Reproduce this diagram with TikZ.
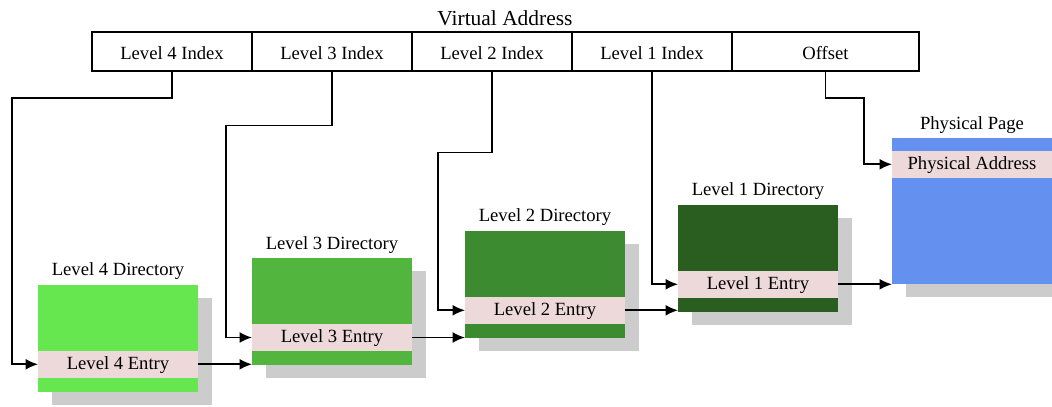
\documentclass[tikz,border=0pt]{standalone}
\usepackage{fontspec}
\setmainfont{Liberation Serif}
\usetikzlibrary{positioning,calc,arrows.meta,backgrounds}

\definecolor{dirfour}{HTML}{66E64F}
\definecolor{dirthree}{HTML}{52B63E}
\definecolor{dirtwo}{HTML}{3D8B30}
\definecolor{dirone}{HTML}{2A5D20}
\definecolor{pagecol}{HTML}{6490F0}
\definecolor{entrycol}{HTML}{EDD9D9}
\definecolor{shadowcol}{HTML}{CCCCCC}

\begin{document}
\begin{tikzpicture}[
    x=0.02cm, y=-0.02cm,
    font=\fontsize{10.6}{12}\selectfont,
    every node/.style={text height=9pt, text depth=0.2pt},
    field/.style={rectangle, draw, line width=0.6pt, minimum width=3.2cm, minimum height=0.78cm, inner sep=0},
    directory/.style={rectangle, minimum width=3.2cm, minimum height=2.134cm, inner sep=0, outer sep=0},
    entry/.style={rectangle, fill=entrycol, minimum width=3.2cm, minimum height=0.534cm, inner sep=0, outer sep=0, text height=7pt, text depth=1.6pt},
    shadowbox/.style={fill=shadowcol},
    link/.style={line width=1pt, -{Latex[length=2.5mm,width=2.2mm]}}
]
    \useasboundingbox (0,0) rectangle (1052,406);

    % Virtual address
    \node[anchor=base, font=\fontsize{12.2}{14}\selectfont] (VA) at (505,25) {Virtual Address};

    \foreach \i [evaluate=\i as \x using 172+(4-\i)*160] in {4,...,1}
        \node[field] (I\i) at (\x,51.5) {Level \i\ Index};

    \node[field, minimum width=3.74cm] (off) at (825.5,51.5) {Offset};

    % Directories
    \foreach \i/\x/\y/\c in {4/118/338.3/dirfour, 3/332/311.5/dirthree, 2/545/284.3/dirtwo, 1/758/258.3/dirone} {
        \node[directory, fill=\c] (D\i) at (\x,\y) {};
        \node[entry] (E\i) at (\x,\y+26) {Level \i\ Entry};
        \node[above=1.4pt of D\i] (T\i) {Level \i\ Directory};
    }

    % Physical page
    \node[directory, fill=pagecol, minimum height=2.92cm] (P) at (972,211.3) {};
    \node[entry] (PA) at (972,164.3) {Physical Address};
    \node[above=1.4pt of P] (TP) {Physical Page};

    % Shadows
    \begin{scope}[on background layer]
        \foreach \i in {4,...,1}
            \fill[shadowbox] ($(D\i.south west)+(14,13)$) rectangle ($(D\i.north east)+(14,13)$);
        \fill[shadowbox] ($(P.south west)+(14,13)$) rectangle ($(P.north east)+(14,13)$);
    \end{scope}

    % Connections

    \draw[link] (I4.south) -- ++(0,26.7) -| ($(E4.west)+(-26,0)$) -- (E4.west);
    \draw[link] (I3.south) -- ++(0,54) -| ($(E3.west)+(-26,0)$) -- (E3.west);
    \draw[link] (I2.south) -- ++(0,81) -| ($(E2.west)+(-27,0)$) -- (E2.west);
    \draw[link] (I1.south) |- (E1.west);
    \draw[link] (off.south) -- ++(0,26.7) -| ($(PA.west)+(-28,0)$) -- (PA.west);

    \foreach \i/\j in {4/3,3/2,2/1}
        \draw[link] (E\i.east) -- (E\i.east -| D\j.west);

    \draw[link] (E1.east) -- (E1.east -| P.west);

\end{tikzpicture}
\end{document}
